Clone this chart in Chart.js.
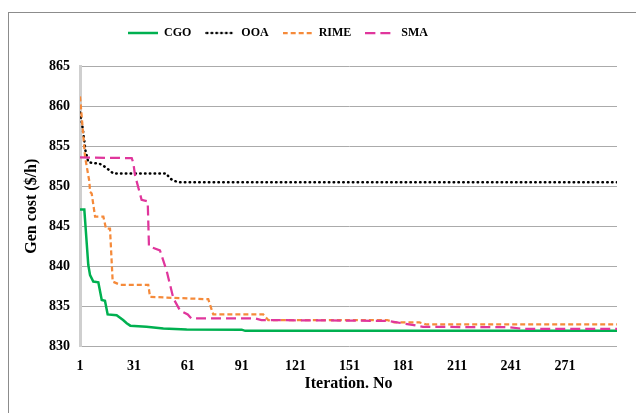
<!DOCTYPE html>
<html>
<head>
<meta charset="utf-8">
<script src="https://cdn.jsdelivr.net/npm/chart.js@4/dist/chart.umd.min.js"></script>
<style>
  html, body { margin: 0; padding: 0; background: #ffffff; }
  #wrap { position: relative; width: 636px; height: 413px; overflow: hidden; }
  #frame { position: absolute; left: 8px; top: 12px; width: 700px; height: 500px;
           border-left: 1px solid #8c8c8c; border-top: 1px solid #8c8c8c; box-sizing: border-box; }
  canvas#c { position: absolute; left: 0; top: 0; }
</style>
</head>
<body>
<div id="wrap">
  <div id="frame"></div>
  <canvas id="c" width="636" height="413"></canvas>
</div>
<script>
// ---- Data ----
const seriesNames = ['CGO', 'OOA', 'RIME', 'SMA'];
const xTickValues = [1, 31, 61, 91, 121, 151, 181, 211, 241, 271];
const yTickValues = [830, 835, 840, 845, 850, 855, 860, 865];

const cgoIter = [1, 3.4, 5.6, 6.6, 8.4, 11.2, 13.1, 14.9, 16.4, 21.4, 25, 27, 29, 38, 47.4, 60.4, 91, 93, 300];
const cgoCost = [847.1, 847.1, 840.2, 838.9, 838.1, 838.0, 835.8, 835.7, 834.0, 833.9, 833.3, 832.9, 832.6, 832.46, 832.25, 832.13, 832.1, 831.95, 831.95];

const ooaIter = [1, 2, 3, 4, 5.6, 8, 12, 15, 19.5, 49, 51, 53, 56, 300];
const ooaCost = [859.2, 858.0, 856.4, 854.5, 853.0, 852.9, 852.8, 852.4, 851.6, 851.6, 851.0, 850.7, 850.5, 850.5];

const rimeIter = [1, 2.8, 3.8, 6.2, 6.6, 7.5, 9.4, 14, 15.5, 17.7, 19.2, 23.3, 39, 40, 49.3, 72.4, 75.2, 103, 105.8, 172, 176, 190, 194, 300];
const rimeCost = [861.2, 856.4, 853.7, 850.6, 849.3, 849.1, 846.2, 846.2, 844.7, 844.7, 838.1, 837.7, 837.7, 836.2, 836.1, 835.9, 834.0, 834.0, 833.3, 833.3, 833.0, 833.0, 832.75, 832.75];

const smaIter = [1, 29.8, 30.7, 31.6, 35.3, 38.7, 39.4, 45.5, 49.3, 53, 56.7, 61, 63, 98.4, 102, 172, 186, 192, 240, 248, 300];
const smaCost = [853.6, 853.5, 852.9, 851.4, 848.3, 848.1, 842.5, 842.0, 839.4, 836.0, 834.5, 834.0, 833.5, 833.5, 833.3, 833.2, 832.7, 832.45, 832.4, 832.2, 832.2];

// ---- Styles ----
const colors = ['#00b050', '#000000', '#f58a3a', '#e0369c'];
const widths = [2.5, 2.5, 2.25, 2.25];
const dashes = [[], [0.5, 4.3], [5, 3], [10, 5]];
const caps = ['butt', 'round', 'butt', 'butt'];

function legendSwatch(i) {
  const cv = document.createElement('canvas');
  cv.width = 30; cv.height = 4;
  const g = cv.getContext('2d');
  g.strokeStyle = colors[i];
  g.lineWidth = widths[i];
  g.lineCap = caps[i];
  g.setLineDash(dashes[i]);
  g.beginPath();
  g.moveTo(caps[i] === 'round' ? 1.5 : 0, 2);
  g.lineTo(30, 2);
  g.stroke();
  return cv;
}

const pts = (xs, ys) => xs.map((x, i) => ({ x: x, y: ys[i] }));
const FONT = "'Liberation Serif', 'Times New Roman', serif";
const LEG_X = 128;      // left of first legend line
const LEG_EXTRA = 17;   // gap below legend

const layoutTweaks = {
  id: 'layoutTweaks',
  beforeLayout(chart) {
    const lg = chart.legend;
    if (lg && !lg._patched) {
      const orig = lg.fit;
      lg.fit = function () { orig.call(this); this.height += LEG_EXTRA; };
      lg._patched = true;
    }
  },
  afterLayout(chart) {
    const lg = chart.legend;
    if (lg) lg.left = LEG_X - lg.options.labels.padding;
  }
};

const seriesData = [pts(cgoIter, cgoCost), pts(ooaIter, ooaCost), pts(rimeIter, rimeCost), pts(smaIter, smaCost)];
const orders = [4, 3, 2, 1];

new Chart(document.getElementById('c'), {
  type: 'line',
  data: {
    datasets: seriesNames.map((name, i) => ({
      label: name,
      data: seriesData[i],
      borderColor: colors[i],
      backgroundColor: colors[i],
      borderWidth: widths[i],
      borderDash: dashes[i],
      borderCapStyle: caps[i],
      pointStyle: legendSwatch(i),
      pointRadius: 0,
      pointHoverRadius: 0,
      order: orders[i]
    }))
  },
  options: {
    responsive: false,
    devicePixelRatio: 1,
    animation: false,
    layout: { padding: { left: 0, right: 19, top: 13, bottom: 0 } },
    elements: { line: { tension: 0 } },
    plugins: {
      tooltip: { enabled: false },
      legend: {
        position: 'top',
        align: 'start',
        labels: {
          usePointStyle: true,
          pointStyleWidth: 30,
          boxHeight: 12,
          padding: 14,
          color: '#000000',
          font: { family: FONT, size: 12, weight: 'bold' },
          sort: (a, b) => a.datasetIndex - b.datasetIndex
        }
      }
    },
    scales: {
      x: {
        type: 'linear',
        min: 1,
        max: 300,
        afterBuildTicks: (s) => { s.ticks = xTickValues.map(v => ({ value: v })); },
        afterFit: (s) => { s.height = 66.5; },
        grid: { display: false, drawTicks: false },
        border: { display: false },
        ticks: { autoSkip: false, maxRotation: 0, padding: 11, color: '#000000',
                 font: { family: FONT, size: 14, weight: 'bold' } },
        title: { display: true, text: 'Iteration. No', color: '#000000',
                 font: { family: FONT, size: 16, weight: 'bold' }, padding: { top: 0, bottom: 20 } }
      },
      y: {
        type: 'linear',
        min: 830,
        max: 865,
        afterBuildTicks: (s) => { s.ticks = yTickValues.map(v => ({ value: v })); },
        afterFit: (s) => { s.width = 80; },
        grid: { color: '#ababab', lineWidth: 1, drawTicks: false },
        border: { display: true, color: '#cfcfcf', width: 3 },
        ticks: { padding: 10, color: '#000000', font: { family: FONT, size: 14, weight: 'bold' } },
        title: { display: true, text: 'Gen cost ($/h)', color: '#000000',
                 font: { family: FONT, size: 16, weight: 'bold' }, padding: { top: 22, bottom: 0 } }
      }
    }
  },
  plugins: [layoutTweaks]
});
</script>
</body>
</html>
